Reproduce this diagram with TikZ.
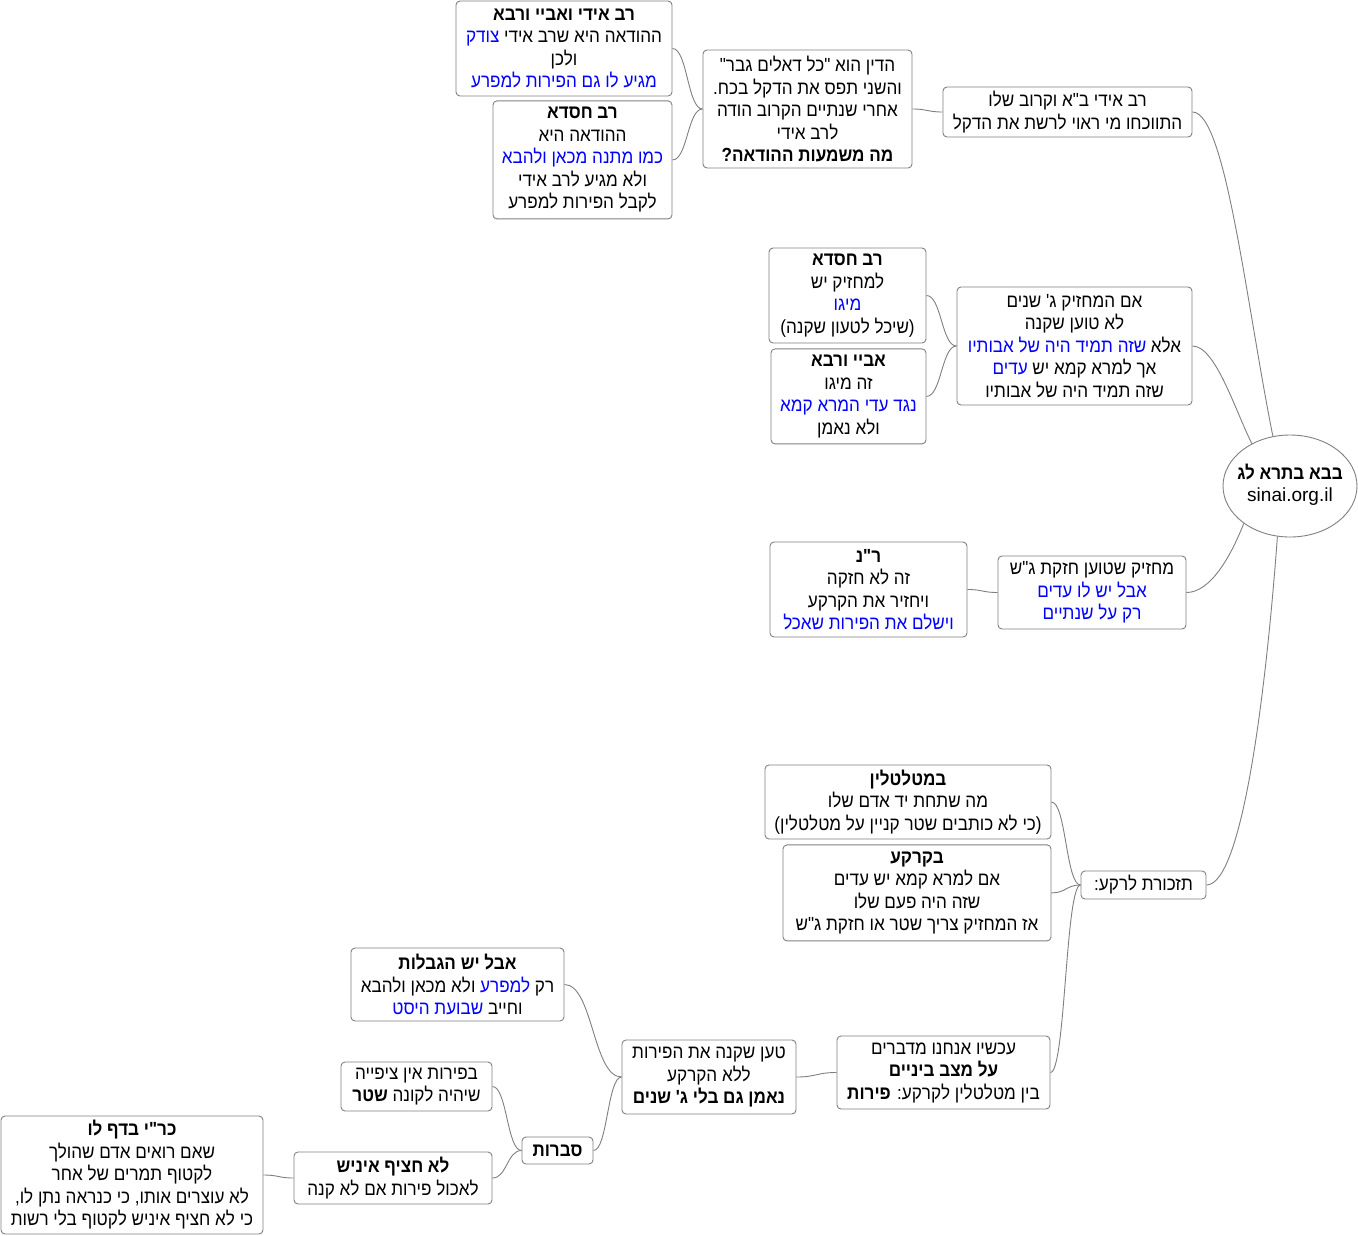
\documentclass[tikz,border=0pt]{standalone}
\usepackage{fontspec}
\newfontfamily\hebreo[Script=Hebrew, FakeStretch=0.9]{Liberation Sans}
\newfontfamily\latina{Liberation Sans}
\TeXXeTstate=1
\usetikzlibrary{shapes.geometric, calc, positioning}
\definecolor{azul}{HTML}{0000FF}
\definecolor{gris}{HTML}{808080}
\newcommand{\der}[1]{\beginR#1\endR}
\newcommand{\az}[1]{\hbox{\color{azul}\beginR#1\endR}}

\begin{document}
\begin{tikzpicture}[
  x=1pt, y=-1pt,
  font=\hebreo\fontsize{19}{22.5}\selectfont,
  nodo/.style={rectangle, rounded corners=4pt, draw=gris, line width=0.9pt, fill=white,
               align=center, inner sep=0pt},
  raiz/.style={ellipse, draw=gris, line width=0.9pt, fill=white, inner sep=0pt,
               minimum width=134, minimum height=102},
  rama/.style={draw=gris, line width=0.9pt,
               to path={let \p1=(\tikztostart), \p2=(\tikztotarget) in
                 .. controls ({(\x1+\x2)/2},\y1) and ({(\x1+\x2)/2},\y2) .. (\tikztotarget)}},
  tallo/.style={draw=gris, line width=0.9pt},
]
\path[fill=white] (0,0) rectangle (1358,1235);

% --- Raíz ---
\node[raiz] (raiz) at (1290,486)
  {\makebox[0pt]{\begin{tabular}{@{}c@{}}{\bfseries\der{בבא בתרא לג}}\\{\latina sinai.org.il}\end{tabular}}};

% --- Rama 1: el dekel ---
\node[nodo, minimum width=249, minimum height=50] (dekel) at (1067.5,112)
  {\der{רב אידי ב"א וקרוב שלו}\\\der{התווכחו מי ראוי לרשת את הדקל}};
\node[nodo, minimum width=209, minimum height=118] (hodaa) at (807.5,109)
  {\der{הדין הוא "כל דאלים גבר"}\\\der{והשני תפס את הדקל בכח.}\\\der{אחרי שנתיים הקרוב הודה}\\\der{לרב אידי}\\{\bfseries\der{מה משמעות ההודאה?}}};
\node[nodo, minimum width=216, minimum height=95] (hodaa1) at (564,48.5)
  {{\bfseries\der{רב אידי ואביי ורבא}}\\\az{צודק} \der{ההודאה היא שרב אידי}\\\der{ולכן}\\\az{מגיע לו גם הפירות למפרע}};
\node[nodo, minimum width=179, minimum height=118, below=4pt of hodaa1.south east, anchor=north east] (hodaa2)
  {{\bfseries\der{רב חסדא}}\\\der{ההודאה היא}\\\az{כמו מתנה מכאן ולהבא}\\\der{ולא מגיע לרב אידי}\\\der{לקבל הפירות למפרע}};

% --- Rama 2: de sus padres ---
\node[nodo, minimum width=235, minimum height=118] (avot) at (1074.5,346)
  {\der{אם המחזיק ג' שנים}\\\der{לא טוען שקנה}\\\az{שזה תמיד היה של אבותיו} \der{אלא}\\\az{עדים} \der{אך למרא קמא יש}\\\der{שזה תמיד היה של אבותיו}};
\node[nodo, minimum width=157, minimum height=95] (migo1) at (847.5,295.5)
  {{\bfseries\der{רב חסדא}}\\\der{למחזיק יש}\\\az{מיגו}\\\der{(שיכל לטעון שקנה)}};
\node[nodo, minimum width=155, minimum height=95, below=5pt of migo1.south east, anchor=north east] (migo2)
  {{\bfseries\der{אביי ורבא}}\\\der{זה מיגו}\\\az{נגד עדי המרא קמא}\\\der{ולא נאמן}};

% --- Rama 3: dos años ---
\node[nodo, minimum width=188, minimum height=73] (shnatayim) at (1092,592.5)
  {\der{מחזיק שטוען חזקת ג"ש}\\\az{אבל יש לו עדים}\\\az{רק על שנתיים}};
\node[nodo, minimum width=197, minimum height=95] (rn) at (868.5,589.5)
  {{\bfseries\der{ר"נ}}\\\der{זה לא חזקה}\\\der{ויחזיר את הקרקע}\\\az{וישלם את הפירות שאכל}};

% --- Rama 4: recordatorio ---
\node[nodo, minimum width=125, minimum height=28] (reka) at (1143.5,885)
  {\der{תזכורת לרקע:}};
\node[nodo, minimum width=286, minimum height=74] (metaltelin) at (908,802)
  {{\bfseries\der{במטלטלין}}\\\der{מה שתחת יד אדם שלו}\\\der{(כי לא כותבים שטר קניין על מטלטלין)}};
\node[nodo, minimum width=268, minimum height=96, below=5pt of metaltelin.south east, anchor=north east] (karka)
  {{\bfseries\der{בקרקע}}\\\der{אם למרא קמא יש עדים}\\\der{שזה היה פעם שלו}\\\der{אז המחזיק צריך שטר או חזקת ג"ש}};
\node[nodo, minimum width=213, minimum height=73] (peirot) at (943.5,1072.5)
  {\der{עכשיו אנחנו מדברים}\\{\bfseries\der{על מצב ביניים}}\\\der{בין מטלטלין לקרקע: {\bfseries פירות}}};
\node[nodo, minimum width=174, minimum height=74] (taan) at (709,1077)
  {\der{טען שקנה את הפירות}\\\der{ללא הקרקע}\\{\bfseries\der{נאמן גם בלי ג' שנים}}};
\node[nodo, minimum width=213, minimum height=73] (hagbalot) at (457.5,984.5)
  {{\bfseries\der{אבל יש הגבלות}}\\\der{ולא מכאן ולהבא} \az{למפרע} \der{רק}\\\az{שבועת היסט} \der{וחייב}};
\node[nodo, minimum width=71, minimum height=27] (svarot) at (557.5,1150.5)
  {{\bfseries\der{סברות}}};
\node[nodo, minimum width=151, minimum height=49] (tzipiya) at (416.5,1086.5)
  {\der{בפירות אין ציפייה}\\\der{שיהיה לקונה {\bfseries שטר}}};
\node[nodo, minimum width=198, minimum height=52] (chatzif) at (393,1178)
  {{\bfseries\der{לא חציף איניש}}\\\der{לאכול פירות אם לא קנה}};
\node[nodo, minimum width=262, minimum height=118] (daf) at (132,1175)
  {{\bfseries\der{כר"י בדף לו}}\\\der{שאם רואים אדם שהולך}\\\der{לקטוף תמרים של אחר}\\\der{לא עוצרים אותו, כי כנראה נתן לו,}\\\der{כי לא חציף איניש לקטוף בלי רשות}};

% --- Tallos desde la raíz ---
\draw[tallo] (dekel.east) .. controls +(33,0) and +(-27,-135) .. (raiz.109);
\draw[tallo] (avot.east) .. controls +(23,0) and +(-17,-34) .. (raiz.132);
\draw[tallo] (shnatayim.east) .. controls +(24,0) and +(-13,33) .. (raiz.219);
\draw[tallo] (reka.east) .. controls +(35,0) and +(-12,163) .. (raiz.256);

% --- Ramas ---
\draw[rama] (dekel.west) to (hodaa.east);
\draw[rama] (hodaa.west) to (hodaa1.east);
\draw[rama] (hodaa.west) to (hodaa2.east);
\draw[rama] (avot.west) to (migo1.east);
\draw[rama] (avot.west) to (migo2.east);
\draw[rama] (shnatayim.west) to (rn.east);
\draw[rama] (reka.west) to (metaltelin.east);
\draw[rama] (reka.west) to (karka.east);
\draw[rama] (reka.west) to (peirot.east);
\draw[rama] (peirot.west) to (taan.east);
\draw[rama] (taan.west) to (hagbalot.east);
\draw[rama] (taan.west) to (svarot.east);
\draw[rama] (svarot.west) to (tzipiya.east);
\draw[rama] (svarot.west) to (chatzif.east);
\draw[rama] (chatzif.west) to (daf.east);

\end{tikzpicture}
\end{document}
